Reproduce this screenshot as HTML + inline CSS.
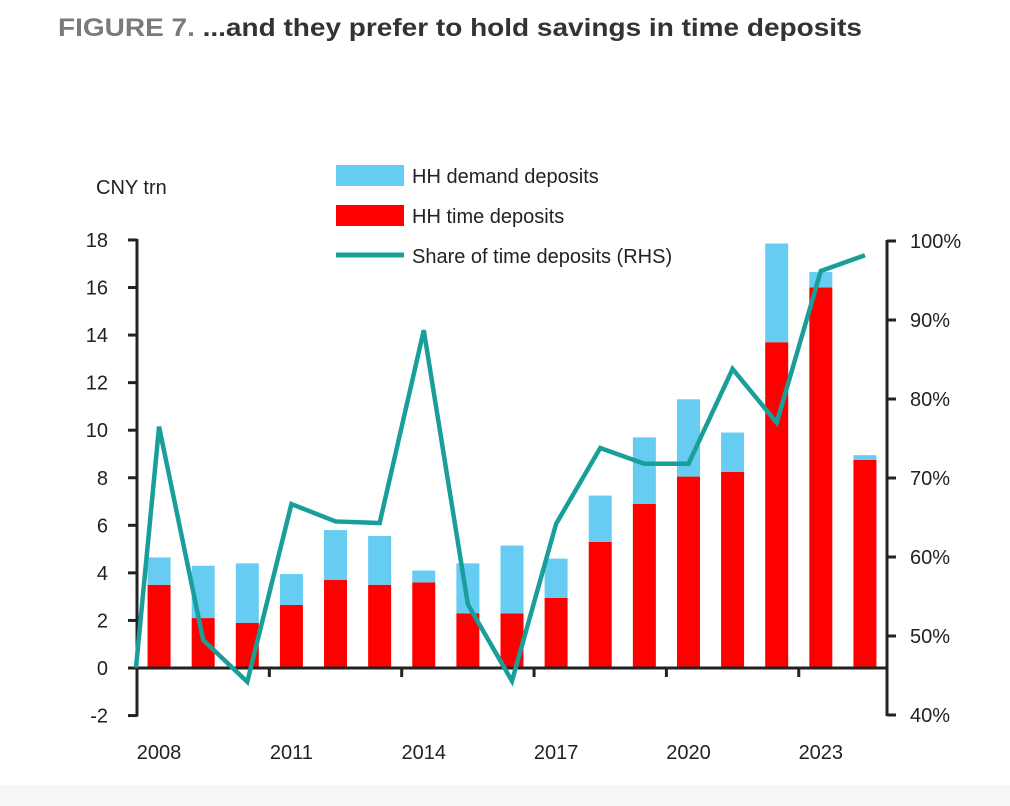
<!DOCTYPE html>
<html><head><meta charset="utf-8"><style>
html,body{margin:0;padding:0;background:#fff;}
svg{display:block;font-family:"Liberation Sans",sans-serif;}
</style></head><body>
<svg id="chart" width="1010" height="806" viewBox="0 0 1010 806">
<rect x="0" y="785" width="1010" height="21" fill="#f6f6f6"/>
<text x="58" y="36" font-size="25" font-weight="bold" textLength="804" lengthAdjust="spacingAndGlyphs"><tspan fill="#7a7a7a">FIGURE 7. </tspan><tspan fill="#333">...and they prefer to hold savings in time deposits</tspan></text>
<text x="96" y="194" font-size="20" fill="#222">CNY trn</text>
<g>
<rect x="336" y="165" width="68" height="21" fill="#66ccf2"/>
<text x="412" y="183" font-size="20" fill="#222">HH demand deposits</text>
<rect x="336" y="205" width="68" height="21" fill="#ff0000"/>
<text x="412" y="223" font-size="20" fill="#222">HH time deposits</text>
<line x1="336" y1="255" x2="404" y2="255" stroke="#1a9e9a" stroke-width="5"/>
<text x="412" y="263" font-size="20" fill="#222">Share of time deposits (RHS)</text>
</g>
<g id="bars"></g><g id="axes"></g><g id="line"></g>
</svg>
<script>
const years=[2008,2009,2010,2011,2012,2013,2014,2015,2016,2017,2018,2019,2020,2021,2022,2023,2024];
const timeDeposits=[3.5,2.1,1.9,2.65,3.7,3.5,3.6,2.3,2.3,2.95,5.3,6.9,8.05,8.25,13.7,16.0,8.75];
const demandDeposits=[1.15,2.2,2.5,1.3,2.1,2.05,0.5,2.1,2.85,1.65,1.95,2.8,3.25,1.65,4.15,0.65,0.2];
const sharePct=[76.5,49.5,44.2,66.7,64.5,64.3,88.7,54,44.3,64.2,73.8,71.8,71.8,83.8,77,96.2,98.2];
const shareStart=46;
const leftTicks=[-2,0,2,4,6,8,10,12,14,16,18];
const rightTicks=[40,50,60,70,80,90,100];
const xLabels=[2008,2011,2014,2017,2020,2023];

const NS="http://www.w3.org/2000/svg";
const x0=137,x1=887,step=(x1-x0)/years.length,barW=23;
const yL=v=>668-(v)*23.78;
const yR=p=>715-(p-40)*7.9;
const xc=i=>x0+step*(i+0.5);
function mk(tag,attrs,parent){const e=document.createElementNS(NS,tag);for(const k in attrs)e.setAttribute(k,attrs[k]);parent.appendChild(e);return e;}
const gb=document.getElementById('bars'),ga=document.getElementById('axes'),gl=document.getElementById('line');
years.forEach((y,i)=>{
  const t=timeDeposits[i],d=demandDeposits[i];
  const r=mk('rect',{x:xc(i)-barW/2,y:yL(t),width:barW,height:yL(0)-yL(t),fill:'#ff0000'},gb);
  
  
  const c=mk('rect',{x:xc(i)-barW/2,y:yL(t+d),width:barW,height:yL(t)-yL(t+d),fill:'#66ccf2'},gb);
  
  
});
const st={stroke:'#222','stroke-width':3};
let a=mk('line',Object.assign({x1:x0,y1:yL(18)-1,x2:x0,y2:yL(-2)+1},st),ga);


leftTicks.forEach(v=>{
  mk('line',Object.assign({x1:x0-9,y1:yL(v),x2:x0,y2:yL(v)},st),ga);
  const t=mk('text',{x:108,y:yL(v)+7,'font-size':20,fill:'#222','text-anchor':'end'},ga);t.textContent=v;
  
  
});
a=mk('line',Object.assign({x1:x1,y1:yR(100)-1,x2:x1,y2:yR(40)+1},st),ga);


rightTicks.forEach(p=>{
  mk('line',Object.assign({x1:x1,y1:yR(p),x2:x1+9,y2:yR(p)},st),ga);
  const t=mk('text',{x:910,y:yR(p)+7,'font-size':20,fill:'#222'},ga);t.textContent=p+'%';
  
  
});
a=mk('line',Object.assign({x1:x0,y1:yL(0),x2:x1,y2:yL(0)},st),ga);


xLabels.forEach(y=>{
  const i=years.indexOf(y);
  mk('line',Object.assign({x1:x0+step*i,y1:yL(0),x2:x0+step*i,y2:yL(0)+9},st),ga);
  const t=mk('text',{x:xc(i),y:759,'font-size':20,fill:'#222','text-anchor':'middle'},ga);t.textContent=y;
  
  
});
let pts=[[x0-1,yR(shareStart)]];
sharePct.forEach((p,i)=>pts.push([xc(i),yR(p)]));
const pl=mk('polyline',{points:pts.map(p=>p.join(',')).join(' '),fill:'none',stroke:'#1a9e9a','stroke-width':4.5,'stroke-linejoin':'miter'},gl);


</script>
</body></html>
